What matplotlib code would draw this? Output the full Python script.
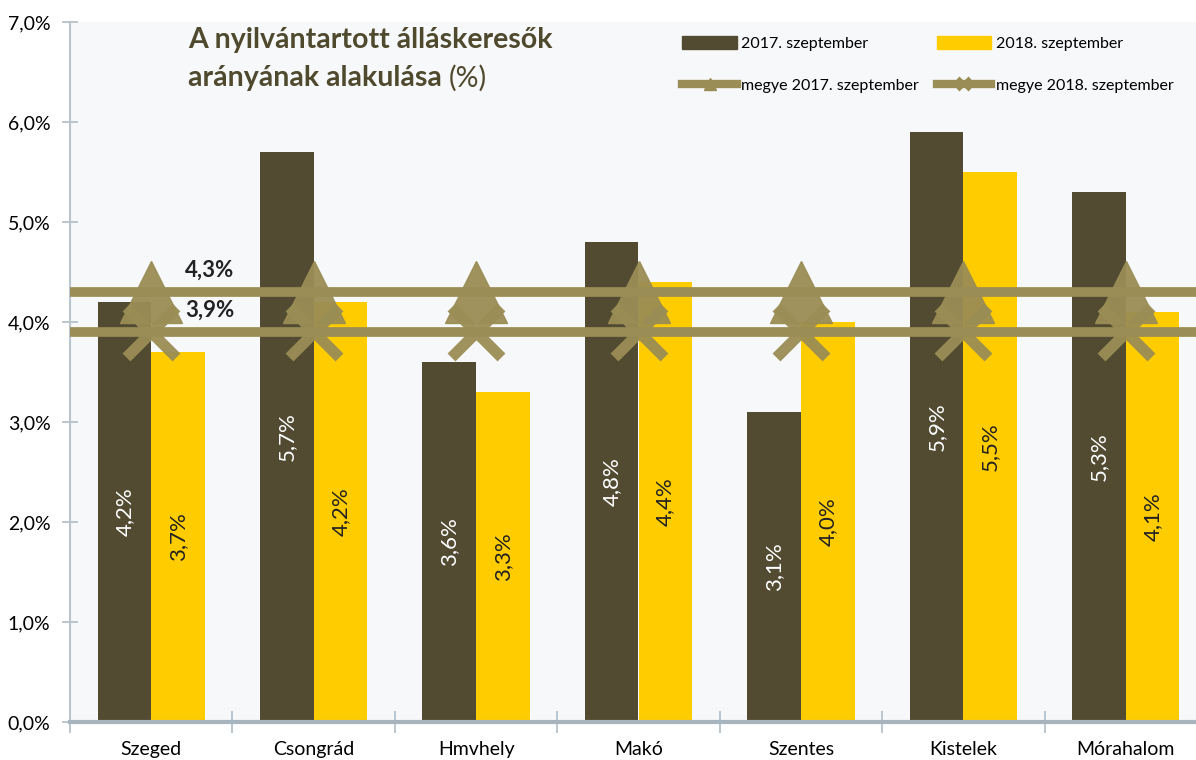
import numpy as np
import matplotlib.pyplot as plt
from matplotlib.lines import Line2D
from matplotlib.patches import Patch

cities = ["Szeged", "Csongrád", "Hmvhely", "Makó", "Szentes", "Kistelek", "Mórahalom"]
sep2017 = [4.2, 5.7, 3.6, 4.8, 3.1, 5.9, 5.3]
sep2018 = [3.7, 4.2, 3.3, 4.4, 4.0, 5.5, 4.1]
megye2017 = 4.3
megye2018 = 3.9

dark = "#524b32"
yellow = "#ffcc00"
olive = "#9a8d55"
narrow = ["Lato", "DejaVu Sans"]

fig = plt.figure(figsize=(11.96, 7.6), dpi=100)
ax = fig.add_axes([70/1196, 38/760, 1137/1196, 700/760])
ax.set_facecolor("#f7f8fa")

x = np.arange(len(cities))
w = 0.33
ax.bar(x - w/2, sep2017, w, color=dark, zorder=2)
ax.bar(x + w/2, sep2018, w, color=yellow, zorder=2)

for i in range(len(cities)):
    ax.text(x[i] - w/2, sep2017[i]/2, f"{sep2017[i]:.1f}%".replace(".", ","),
            rotation=90, ha="center", va="center", color="white", fontsize=16,
            family=narrow, zorder=3)
    ax.text(x[i] + w/2, sep2018[i]/2, f"{sep2018[i]:.1f}%".replace(".", ","),
            rotation=90, ha="center", va="center", color="#222222", fontsize=16,
            family=narrow, zorder=3)

m17 = [megye2017] * len(cities)
m18 = [megye2018] * len(cities)
ax.plot([-0.5, len(cities) - 0.5], [megye2017, megye2017], color=olive, lw=7, zorder=4,
        solid_capstyle="butt")
ax.plot([-0.5, len(cities) - 0.5], [megye2018, megye2018], color=olive, lw=7, zorder=4,
        solid_capstyle="butt")
ax.plot(x, m18, ls="none", marker="x", ms=36, mew=8, color=olive, alpha=0.95, zorder=5)
ax.plot(x, m17, ls="none", marker="^", ms=44, color=olive, alpha=0.95, zorder=6)

ax.text(0.36, 4.52, "4,3%", fontsize=16, fontweight="bold", color="#222222",
        family=narrow, ha="center", va="center", zorder=7)
ax.text(0.36, 4.12, "3,9%", fontsize=16, fontweight="bold", color="#222222",
        family=narrow, ha="center", va="center", zorder=7)

ax.set_xlim(-0.5, len(cities) - 0.5)
ax.set_ylim(0, 7)
ax.set_yticks(np.arange(0, 7.01, 1))
ax.set_yticklabels([f"{v:.1f}%".replace(".", ",") for v in np.arange(0, 7.01, 1)],
                   fontsize=14, family=narrow)
ax.set_xticks(x)
ax.set_xticklabels(cities, fontsize=14, family=narrow)
ax.set_xticks(np.arange(-0.5, len(cities)), minor=True)
ax.tick_params(axis="x", which="major", length=0, pad=14)
ax.tick_params(axis="x", which="minor", length=16, color="#b0bcc6", direction="inout", width=1.2)
ax.tick_params(axis="y", length=12, direction="inout", color="#b0bcc6", width=1.2, pad=8)
for s in ["top", "right"]:
    ax.spines[s].set_visible(False)
ax.spines["left"].set_color("#b9c4cc")
ax.spines["left"].set_linewidth(1.5)
ax.spines["bottom"].set_color("#a8b4bd")
ax.spines["bottom"].set_linewidth(3)

fig.text(188/1196, 1 - 40/760, "A nyilvántartott álláskeresők", fontsize=20.5, fontweight="bold",
         color="#4f4a2e", family=narrow, va="center")
t2 = fig.text(188/1196, 1 - 78/760, "arányának alakulása", fontsize=20.5, fontweight="bold",
              color="#4f4a2e", family=narrow, va="center")
fig.canvas.draw()
bb = t2.get_window_extent()
fig.text((bb.x1 + 7) / 1196, 1 - 78/760, "(%)", fontsize=20.5, color="#4f4a2e",
         family=narrow, va="center")

handles = [
    Patch(color=dark, label="2017. szeptember"),
    Line2D([], [], color=olive, lw=6, marker="^", ms=8, label="megye 2017. szeptember"),
    Patch(color=yellow, label="2018. szeptember"),
    Line2D([], [], color=olive, lw=6, marker="x", ms=8, mew=3, label="megye 2018. szeptember"),
]
fig.legend(handles=handles, ncol=2, loc="upper left", bbox_to_anchor=(668/1196, 1 - 22/760),
           frameon=False, prop={"family": narrow, "size": 11.5}, columnspacing=1.1,
           handlelength=3.4, handleheight=0.8, labelspacing=1.7, handletextpad=0.3)

fig.savefig("out.png", dpi=100)
